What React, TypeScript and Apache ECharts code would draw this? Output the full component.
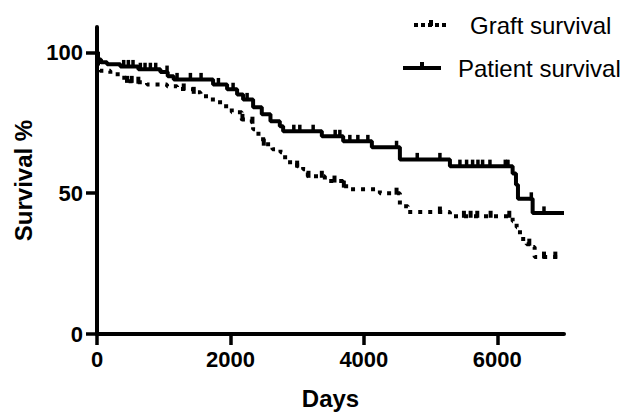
import React, { useEffect, useRef } from "react";
import * as echarts from "echarts";

const patientTimes = [0, 15, 60, 150, 350, 620, 950, 1060, 1150, 1740, 1950, 2100, 2190, 2340, 2470, 2600, 2740, 2790, 3370, 3690, 4120, 4540, 5290, 6230, 6280, 6310, 6530, 7000];
const patientValues = [100, 97.5, 96.5, 95.8, 95, 94, 93, 91.5, 90.4, 88.6, 86.9, 85, 83.3, 80.5, 78, 75.5, 73.8, 72, 70.2, 68.4, 66.3, 62, 59.6, 57, 53, 48, 43, 43];
const patientCensored = [400, 470, 540, 650, 720, 800, 880, 1050, 1200, 1400, 1560, 1820, 2040, 2250, 2950, 3040, 3240, 3570, 3640, 3790, 3910, 4060, 4490, 4800, 5140, 5440, 5540, 5630, 5710, 5780, 5890, 6120, 6160, 6510, 6700];

const graftTimes = [0, 10, 45, 200, 350, 450, 600, 750, 1050, 1200, 1350, 1440, 1550, 1700, 1800, 1890, 2020, 2170, 2320, 2340, 2420, 2490, 2630, 2750, 2820, 3000, 3090, 3160, 3415, 3685, 3790, 4240, 4540, 4660, 5290, 6230, 6290, 6340, 6440, 6530, 6560, 6950];
const graftValues = [100, 96, 93.5, 92.2, 91, 89.7, 89.4, 88.6, 88, 87, 86.9, 85.8, 84.4, 83.3, 82.3, 80.9, 78.7, 76.2, 75.2, 72.7, 69.9, 67.4, 65.6, 64.5, 61, 59.6, 58.5, 56, 54.3, 52.5, 51.4, 50, 45.4, 43.3, 41.8, 40, 37.9, 33.7, 31.9, 30.9, 27.3, 27.3];
const graftCensored = [450, 520, 620, 1300, 1450, 2180, 2330, 2500, 3000, 3170, 3370, 3560, 3700, 4490, 5140, 5500, 5600, 5700, 5900, 6180, 6480, 6700, 6870];

const xTicks = [0, 2000, 4000, 6000];
const yTicks = [0, 50, 100];

function stepValue(times: number[], values: number[], t: number) {
  let v = values[0];
  for (let i = 0; i < times.length; i++) {
    if (times[i] <= t) v = values[i];
  }
  return v;
}

const FONT = '"Liberation Sans", Arial, sans-serif';

export default function App() {
  const ref = useRef<HTMLDivElement>(null);
  useEffect(() => {
    if (!ref.current) return;
    const chart = echarts.init(ref.current, undefined, { renderer: "svg" });
    const axisCommon = {
      axisLine: { show: true, lineStyle: { color: "#000", width: 4 } },
      axisTick: { show: true, length: 11, lineStyle: { color: "#000", width: 3.5 } },
      splitLine: { show: false },
    };
    chart.setOption({
      animation: false,
      grid: { left: 97, right: 65, top: 27, bottom: 79, containLabel: false },
      xAxis: {
        type: "value",
        min: 0,
        max: 7000,
        interval: 2000,
        ...axisCommon,
        axisTick: { ...axisCommon.axisTick, customValues: xTicks },
        axisLabel: {
          customValues: xTicks,
          formatter: (v: number) => String(v),
          margin: 14,
          color: "#000",
          fontFamily: FONT,
          fontWeight: "bold",
          fontSize: 22,
        },
        name: "Days",
        nameLocation: "middle",
        nameGap: 52,
        nameTextStyle: { color: "#000", fontFamily: FONT, fontWeight: "bold", fontSize: 24 },
      },
      yAxis: {
        type: "value",
        min: 0,
        max: 109,
        interval: 50,
        ...axisCommon,
        axisTick: { ...axisCommon.axisTick, customValues: yTicks },
        axisLabel: {
          customValues: yTicks,
          formatter: (v: number) => String(v),
          margin: 14,
          color: "#000",
          fontFamily: FONT,
          fontWeight: "bold",
          fontSize: 22,
        },
        name: "Survival %",
        nameLocation: "middle",
        nameGap: 55,
        nameRotate: 90,
        nameTextStyle: { color: "#000", fontFamily: FONT, fontWeight: "bold", fontSize: 24 },
      },
      series: [
        {
          name: "Graft survival",
          type: "line",
          step: "end",
          showSymbol: false,
          symbol: "none",
          data: graftTimes.map((t, i) => [t, graftValues[i]]),
          lineStyle: { color: "#000", width: 4, type: [4, 6], cap: "butt" },
          z: 2,
        },
        {
          name: "Patient survival",
          type: "line",
          step: "end",
          showSymbol: false,
          symbol: "none",
          data: patientTimes.map((t, i) => [t, patientValues[i]]),
          lineStyle: { color: "#000", width: 4, type: "solid" },
          z: 3,
        },
        {
          type: "scatter",
          symbol: "rect",
          symbolSize: [4, 7],
          symbolOffset: [0, -2],
          itemStyle: { color: "#000", opacity: 1 },
          emphasis: { disabled: true },
          data: graftCensored.map((t) => [t, stepValue(graftTimes, graftValues, t)]),
          z: 4,
        },
        {
          type: "scatter",
          symbol: "rect",
          symbolSize: [3.5, 8],
          symbolOffset: [0, -2.5],
          itemStyle: { color: "#000", opacity: 1 },
          emphasis: { disabled: true },
          data: patientCensored.map((t) => [t, stepValue(patientTimes, patientValues, t)]),
          z: 4,
        },
      ],
      graphic: [
        { type: "line", shape: { x1: 414, y1: 25, x2: 446, y2: 25 }, style: { stroke: "#000", lineWidth: 4, lineDash: [4, 3] } },
        { type: "rect", shape: { x: 429, y: 20, width: 4, height: 6 }, style: { fill: "#000" } },
        { type: "text", x: 470, y: 25, style: { text: "Graft survival", font: "24px " + FONT, fill: "#000", verticalAlign: "middle", align: "left" } },
        { type: "line", shape: { x1: 403, y1: 68, x2: 441, y2: 68 }, style: { stroke: "#000", lineWidth: 4 } },
        { type: "rect", shape: { x: 420, y: 62, width: 4, height: 6 }, style: { fill: "#000" } },
        { type: "text", x: 458, y: 68, style: { text: "Patient survival", font: "24px " + FONT, fill: "#000", verticalAlign: "middle", align: "left" } },
      ],
    });
    return () => chart.dispose();
  }, []);
  return (
    <div
      ref={ref}
      style={{ position: "fixed", left: 0, top: 0, width: 629, height: 415, background: "#fff" }}
    />
  );
}
